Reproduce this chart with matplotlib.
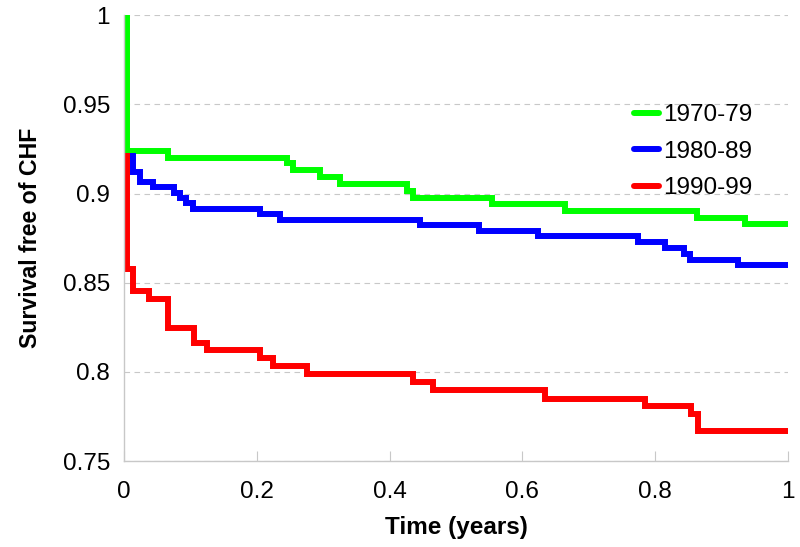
import matplotlib as mpl
mpl.use('Agg')
import matplotlib.pyplot as plt

plt.rcParams['font.family'] = ['Liberation Sans', 'DejaVu Sans']

# Kaplan-Meier style step curves
labels = ["1970-79", "1980-89", "1990-99"]
colors = ["#00ff00", "#0000ff", "#ff0000"]

t_7079 = [0, 0.005, 0.066, 0.245, 0.255, 0.295, 0.325, 0.426, 0.435, 0.554, 0.664, 0.863, 0.935, 1.0]
s_7079 = [1.0, 0.924, 0.920, 0.917, 0.913, 0.9095, 0.9056, 0.9017, 0.8977, 0.8943, 0.8904, 0.8865, 0.8831, 0.8831]

t_8089 = [0, 0.014, 0.024, 0.044, 0.075, 0.084, 0.094, 0.104, 0.205, 0.235, 0.446, 0.535, 0.623, 0.774,
          0.815, 0.843, 0.852, 0.925, 1.0]
s_8089 = [0.921, 0.9119, 0.9063, 0.9035, 0.9001, 0.8975, 0.8945, 0.8914, 0.8886, 0.8854, 0.8824, 0.8792,
          0.876, 0.873, 0.8694, 0.866, 0.8629, 0.8599, 0.8599]

t_9099 = [0, 0.004, 0.014, 0.037, 0.067, 0.106, 0.1245, 0.205, 0.225, 0.275, 0.435, 0.465, 0.634, 0.785,
          0.8535, 0.865, 1.0]
s_9099 = [0.921, 0.8576, 0.8455, 0.8411, 0.8248, 0.816, 0.8123, 0.8076, 0.8033, 0.799, 0.7945, 0.7898,
          0.7851, 0.7808, 0.7765, 0.767, 0.767]

x_ticks = [0, 0.2, 0.4, 0.6, 0.8, 1]
x_tick_labels = ["0", "0.2", "0.4", "0.6", "0.8", "1"]
y_ticks = [0.75, 0.8, 0.85, 0.9, 0.95, 1]
y_tick_labels = ["0.75", "0.8", "0.85", "0.9", "0.95", "1"]


def main():
    fig = plt.figure(figsize=(8, 5.47), dpi=100)
    ax = fig.add_axes([0.155, 0.157, 0.83, 0.815])

    series = [(t_7079, s_7079), (t_8089, s_8089), (t_9099, s_9099)]
    for (t, s), lab, c in zip(series, labels, colors):
        ax.step(t, s, where='post', color=c, lw=4.3, label=lab,
                solid_capstyle='round', solid_joinstyle='miter')

    ax.set_xlim(0, 1)
    ax.set_ylim(0.75, 1)
    ax.set_xticks(x_ticks)
    ax.set_xticklabels(x_tick_labels)
    ax.set_yticks(y_ticks)
    ax.set_yticklabels(y_tick_labels)

    gray = "#c8c8c8"
    for side in ["top", "right"]:
        ax.spines[side].set_visible(False)
    for side in ["left", "bottom"]:
        ax.spines[side].set_color(gray)
        ax.spines[side].set_linewidth(1)
    ax.tick_params(axis='x', direction='in', length=7, color=gray, labelsize=17.5, pad=14)
    ax.tick_params(axis='y', length=0, labelsize=17.5, pad=10)
    ax.yaxis.grid(True, color=gray, linestyle=(0, (5, 4)), linewidth=0.8)
    ax.set_axisbelow(True)

    ax.set_xlabel("Time (years)", fontsize=17.5, fontweight='bold', labelpad=10)
    ax.set_ylabel("Survival free of CHF", fontsize=16.7, fontweight='bold', labelpad=15)

    leg = ax.legend(loc='upper left', bbox_to_anchor=(0.768, 0.801), frameon=False,
                    fontsize=17.5, handlelength=1.05, handletextpad=0.15, labelspacing=0.6,
                    borderaxespad=0, borderpad=0)
    for line in leg.get_lines():
        line.set_linewidth(4.3)

    fig.savefig("out.png", dpi=100)


if __name__ == '__main__':
    main()
